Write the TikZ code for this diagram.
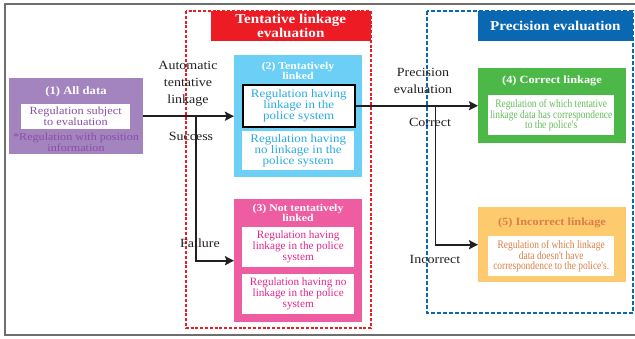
\documentclass[tikz,border=0pt]{standalone}
\usepackage{fontspec}
\setmainfont{Liberation Serif}[FakeStretch=1.12]
\newfontfamily\plainrm{Liberation Serif}
\newfontfamily\narrowrm{Liberation Serif}[FakeStretch=0.82]
\usetikzlibrary{arrows.meta}
\usetikzlibrary{fit}
\usetikzlibrary{positioning}

\definecolor{datapurple}{HTML}{A384BF}
\definecolor{datapurpletext}{HTML}{8B4EA6}
\definecolor{linkcyan}{HTML}{6CCFF6}
\definecolor{linkcyantext}{HTML}{2AAAE2}
\definecolor{nolinkpink}{HTML}{EE5CA1}
\definecolor{nolinkpinktext}{HTML}{E3268A}
\definecolor{stagered}{HTML}{ED1C24}
\definecolor{stageblue}{HTML}{0A67B2}
\definecolor{okgreen}{HTML}{4CB848}
\definecolor{okgreentext}{HTML}{63BC5A}
\definecolor{badorange}{HTML}{FDCB6E}
\definecolor{badorangetext}{HTML}{DB7F45}
\definecolor{framegray}{HTML}{6E6E6E}
\definecolor{flowgray}{HTML}{231F20}

\begin{document}
\begin{tikzpicture}[x=1pt,y=-1pt,
    box/.style={rectangle,inner sep=0pt,anchor=north west},
    entry/.style={rectangle,inner sep=0pt,anchor=north west,fill=white,align=center},
    title/.style={font=\bfseries\fontsize{10.5}{10}\selectfont,align=center,text=white},
    banner/.style={rectangle,inner sep=0pt,anchor=north east,align=center,text=white,
      font=\bfseries\fontsize{13.5}{14}\selectfont},
    flowtext/.style={align=center,text=flowgray,font=\fontsize{12.5}{17}\selectfont},
    flow/.style={draw=flowgray,line width=1.9pt,
      -{Stealth[length=9pt,width=9pt,inset=1.5pt]}}]

  \useasboundingbox (0,0) rectangle (635,338);

  % frame, open to the right
  \draw [framegray,line width=1.5pt] (635,4) -- (5,4) -- (5,335) -- (635,335);

  % (1) all data
  \node [box,fill=datapurple,minimum width=134pt,minimum height=76pt] (alldata) at (9,78) {};
  \node [title,font=\bfseries\fontsize{11.3}{11}\selectfont] (alldatatitle) at (76,92) {(1) All data};
  \node [entry,minimum width=109pt,minimum height=25pt,text=datapurpletext,
    font=\fontsize{11}{11}\selectfont] (subject) at (21,104) {Regulation subject\\to evaluation};
  \node [align=center,text=datapurpletext,font=\fontsize{10.8}{11}\selectfont] (posnote) at (76,142.5)
    {*Regulation with position\\information};

  % tentative linkage evaluation
  \draw [stagered,line width=1.8pt,dash pattern=on 3pt off 1.8pt]
    (186,11) rectangle (371,328);
  \coordinate (tentcorner) at (371,11);
  \node [banner,fill=stagered,minimum width=160pt,minimum height=30pt] (tentbanner)
    at (tentcorner) {Tentative linkage\\evaluation};

  \node [box,fill=linkcyan,minimum width=128pt,minimum height=122pt] (linked) at (234,55) {};
  \node [title] (linkedtitle) at (298,71) {(2) Tentatively\\linked};
  \node [entry,draw=black,line width=1.5pt,minimum width=112pt,minimum height=42pt,text=linkcyantext,
    font=\fontsize{11.6}{11}\selectfont] (haslink) at (242,84) {Regulation having\\linkage in the\\police system};
  \node [entry,minimum width=112pt,minimum height=39pt,text=linkcyantext,
    font=\fontsize{11.6}{11}\selectfont] (nolink) at (242,131) {Regulation having\\no linkage in the\\police system};

  \node [box,fill=nolinkpink,minimum width=128pt,minimum height=123pt] (notlinked) at (234,199) {};
  \node [title] (notlinkedtitle) at (298,213) {(3) Not tentatively\\linked};
  \node [entry,minimum width=112pt,minimum height=40pt,text=nolinkpinktext,
    font=\plainrm\fontsize{11.2}{11}\selectfont] (nothaslink) at (242,227)
    {Regulation having\\linkage in the police\\system};
  \node [entry,minimum width=112pt,minimum height=40pt,text=nolinkpinktext,
    font=\plainrm\fontsize{11.2}{11}\selectfont] (notnolink) at (242,274)
    {Regulation having no\\linkage in the police\\system};

  % precision evaluation
  \draw [stageblue,line width=1.6pt,dash pattern=on 4pt off 2pt]
    (427,11) rectangle (633,313);
  \coordinate (preccorner) at (633,11);
  \node [banner,fill=stageblue,minimum width=155pt,minimum height=30pt] (precbanner)
    at (preccorner) {Precision evaluation};

  \node [box,fill=okgreen,minimum width=148pt,minimum height=75pt] (correct) at (478,68) {};
  \node [title,font=\bfseries\fontsize{11}{11}\selectfont] (correcttitle) at (552,81) {(4) Correct linkage};
  \node [entry,minimum width=126pt,minimum height=40pt,text=okgreentext,
    font=\narrowrm\fontsize{11.5}{10.5}\selectfont] (correctnote) at (488,95)
    {Regulation of which tentative\\linkage data has correspondence\\to the police's};

  \node [box,fill=badorange,minimum width=148pt,minimum height=75pt] (incorrect) at (478,207) {};
  \node [title,text=badorangetext,font=\bfseries\fontsize{11}{11}\selectfont] (incorrecttitle)
    at (552,223) {(5) Incorrect linkage};
  \node [entry,minimum width=126pt,minimum height=40pt,text=badorangetext,
    font=\narrowrm\fontsize{11.5}{10.5}\selectfont] (incorrectnote) at (488,236)
    {Regulation of which linkage\\data doesn't have\\correspondence to the police's.};

  % flows
  \path (alldata.east) ++(53,0) coordinate (autosplit);
  \path (haslink.east) ++(80,0) coordinate (evalsplit);

  \draw [flow] (alldata.east) -- (linked.west);
  \draw [flow] (autosplit) |- (notlinked.west);
  \draw [flow] (haslink.east) -- (correct.west |- haslink.east);
  \draw [flow] (evalsplit) |- (incorrect.west);

  \node [flowtext] (autolab) at (188,84) {Automatic\\tentative\\linkage};
  \node [flowtext] (successlab) at (191,136) {Success};
  \node [flowtext] (failurelab) at (200,243) {Failure};
  \node [flowtext] (preclab) at (423,81) {Precision\\evaluation};
  \node [flowtext] (correctlab) at (430,122) {Correct};
  \node [flowtext] (incorrectlab) at (435,259) {Incorrect};

\end{tikzpicture}
\end{document}
